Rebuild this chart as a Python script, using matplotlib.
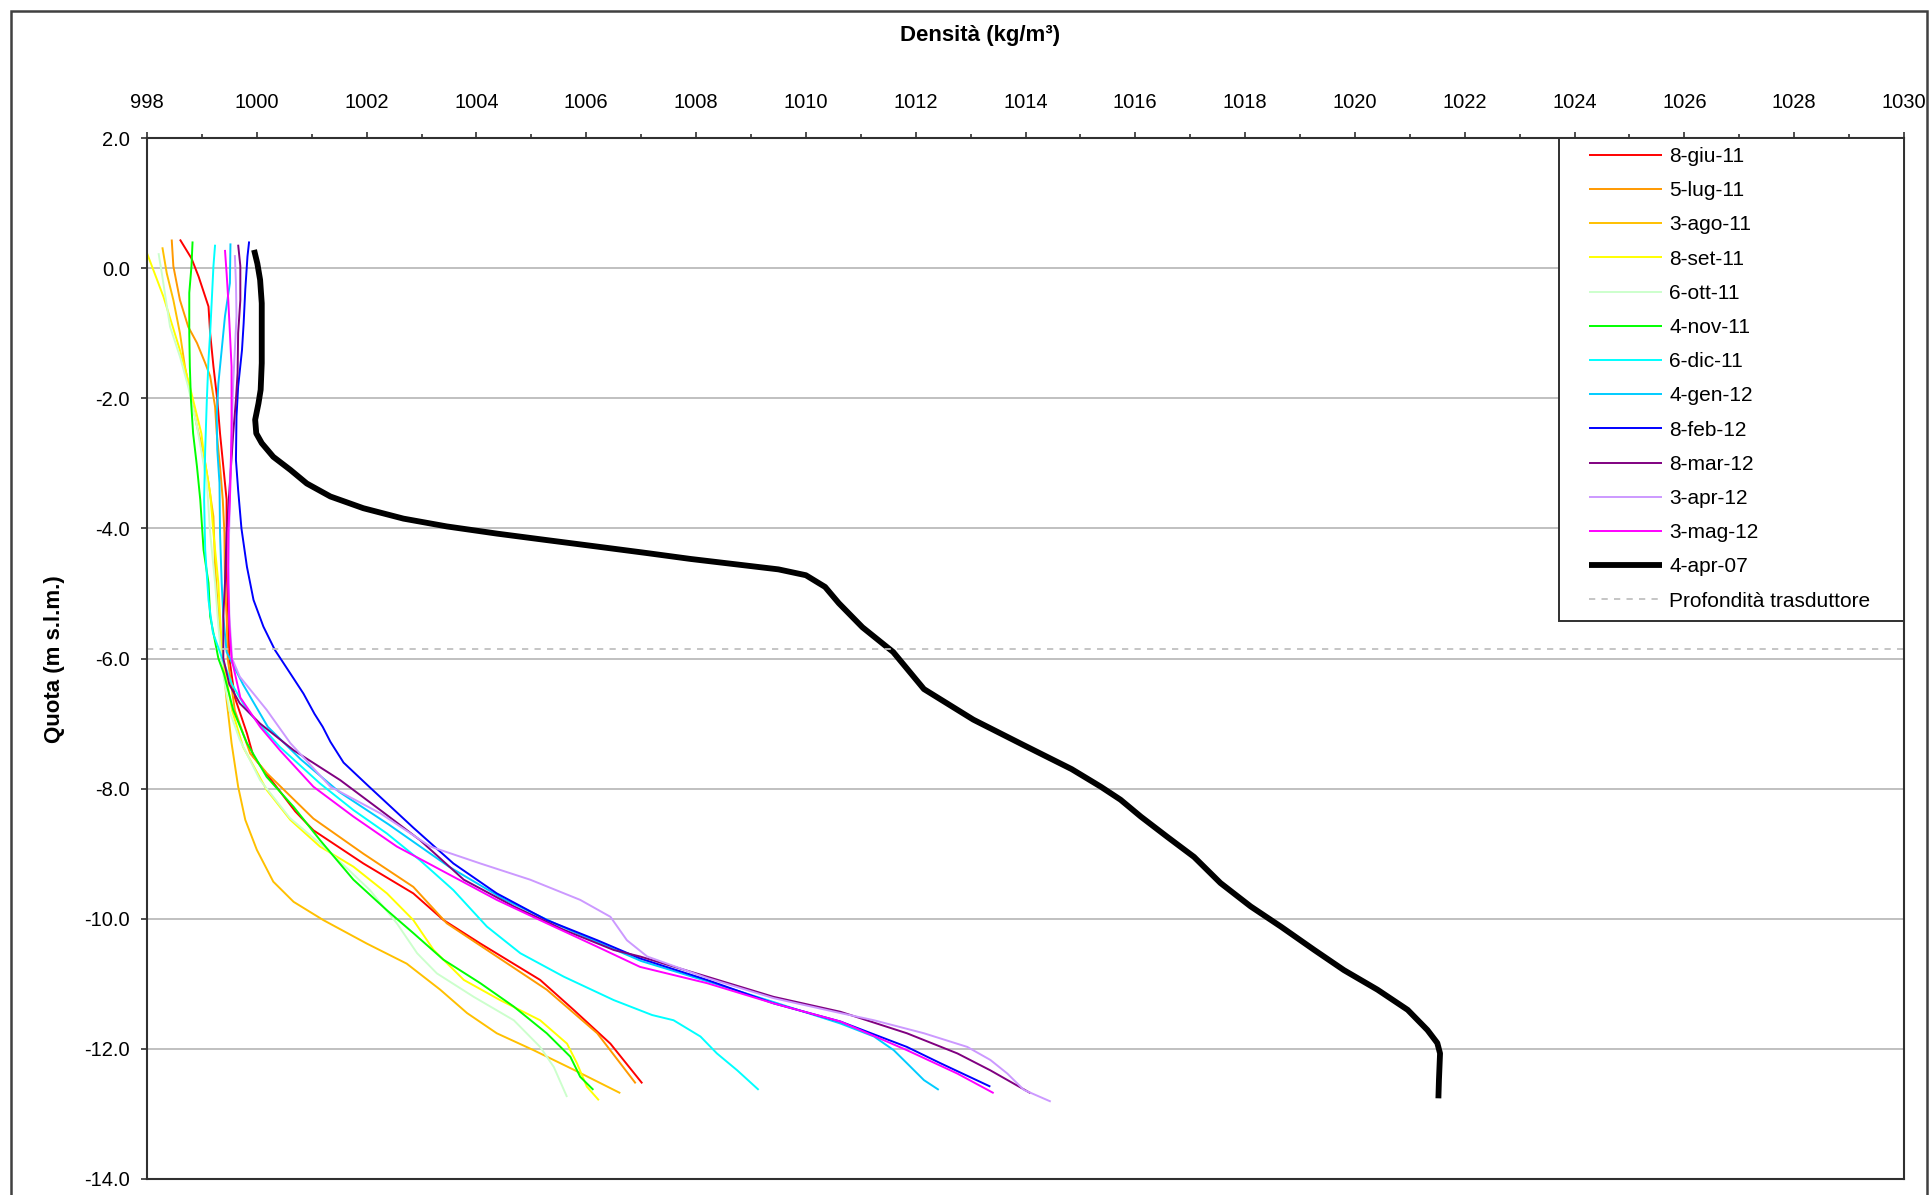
import matplotlib
matplotlib.use('Agg')
import matplotlib.pyplot as plt
from matplotlib.patches import Rectangle
from matplotlib.ticker import MultipleLocator, FormatStrFormatter

plt.rcParams['font.family'] = ['Liberation Sans', 'DejaVu Sans']
plt.rcParams['axes.unicode_minus'] = False
plt.rcParams['lines.scale_dashes'] = False

# ---- density profiles: density (kg/m3) vs elevation (m s.l.m.) ----
giu11_d = [998.60, 998.81, 998.94, 999.12, 999.15, 999.21, 999.28, 999.33, 999.39, 999.45, 999.45, 999.48,
           999.50, 999.60, 999.82, 999.94, 1000.70, 1001.03, 1001.94, 1002.85, 1003.40, 1004.07, 1005.16,
           1005.77, 1006.44, 1007.02]
giu11_q = [0.44, 0.15, -0.13, -0.59, -1.0, -1.51, -2.02, -2.54, -3.05, -3.56, -4.58, -5.40,
           -6.0, -6.6, -7.15, -7.51, -8.35, -8.64, -9.15, -9.61, -10.02, -10.38, -10.94,
           -11.40, -11.92, -12.53]

lug11_d = [998.45, 998.48, 998.60, 998.75, 998.91, 999.06, 999.15, 999.24, 999.27, 999.33, 999.38, 999.41,
           999.42, 999.45, 999.47, 999.60, 999.88, 1000.18, 1001.03, 1001.94, 1002.85, 1003.46, 1004.37,
           1005.28, 1006.20, 1006.90]
lug11_q = [0.44, 0.03, -0.49, -0.9, -1.15, -1.46, -1.66, -2.13, -2.54, -3.05, -3.56, -4.07,
           -4.84, -5.35, -6.0, -6.8, -7.46, -7.76, -8.46, -9.0, -9.51, -10.07, -10.58,
           -11.09, -11.76, -12.53]

ago11_d = [998.28, 998.36, 998.48, 998.60, 998.69, 998.91, 999.03, 999.12, 999.21, 999.24, 999.30, 999.38,
           999.45, 999.54, 999.66, 999.79, 1000.0, 1000.30, 1000.67, 1001.21, 1002.0, 1002.73, 1003.34,
           1003.83, 1004.37, 1005.04, 1005.77, 1006.62]
ago11_q = [0.32, -0.08, -0.49, -1.0, -1.51, -2.43, -2.84, -3.30, -3.82, -4.58, -5.35, -6.0,
           -6.64, -7.30, -7.97, -8.48, -8.94, -9.43, -9.74, -10.02, -10.38, -10.69, -11.09,
           -11.45, -11.76, -12.02, -12.32, -12.68]

set11_d = [998.0, 998.30, 998.60, 998.78, 998.99, 999.05, 999.15, 999.21, 999.30, 999.33, 999.38, 999.55,
           999.75, 1000.18, 1000.61, 1001.15, 1001.76, 1002.37, 1002.85, 1003.22, 1003.77, 1004.43,
           1005.16, 1005.65, 1005.83, 1006.01, 1006.23]
set11_q = [0.23, -0.44, -1.26, -1.82, -2.54, -2.95, -3.46, -4.07, -4.84, -5.35, -6.0, -6.8,
           -7.36, -8.02, -8.48, -8.89, -9.2, -9.61, -10.02, -10.48, -10.94, -11.25,
           -11.56, -11.92, -12.22, -12.58, -12.79]

ott11_d = [998.21, 998.27, 998.42, 998.60, 998.75, 998.91, 999.09, 999.15, 999.24, 999.30, 999.38, 999.50,
           999.69, 1000.06, 1000.60, 1001.30, 1002.06, 1002.55, 1002.92, 1003.28, 1003.95, 1004.68,
           1005.16, 1005.41, 1005.65]
ott11_q = [0.23, -0.08, -0.9, -1.36, -1.82, -2.43, -3.30, -4.07, -4.84, -5.5, -6.2, -6.8,
           -7.25, -7.87, -8.45, -8.95, -9.56, -10.07, -10.53, -10.84, -11.2, -11.56,
           -11.97, -12.28, -12.74]

nov11_d = [998.83, 998.81, 998.77, 998.77, 998.78, 998.80, 998.84, 998.91, 998.97, 999.03, 999.12, 999.15,
           999.30, 999.40, 999.57, 999.82, 1000.18, 1000.67, 1001.15, 1001.76, 1002.37, 1002.85, 1003.40,
           1004.07, 1004.68, 1005.28, 1005.71, 1005.89, 1006.13]
nov11_q = [0.41, 0.03, -0.38, -1.0, -1.51, -2.02, -2.54, -3.05, -3.56, -4.33, -4.84, -5.35,
           -6.0, -6.23, -6.79, -7.30, -7.82, -8.28, -8.79, -9.4, -9.87, -10.22, -10.63,
           -10.99, -11.35, -11.76, -12.12, -12.43, -12.63]

dic11_d = [999.24, 999.21, 999.18, 999.15, 999.12, 999.09, 999.06, 999.04, 999.06, 999.12, 999.20, 999.37,
           999.55, 999.82, 1000.42, 1001.15, 1001.76, 1002.37, 1002.97, 1003.58, 1004.19, 1004.80,
           1005.59, 1006.50, 1007.20, 1007.59, 1008.08, 1008.38, 1008.75, 1009.14]
dic11_q = [0.36, 0.03, -0.49, -1.0, -1.41, -2.02, -2.79, -3.56, -4.33, -5.10, -5.6, -6.0,
           -6.4, -6.79, -7.36, -7.92, -8.33, -8.69, -9.10, -9.56, -10.12, -10.53,
           -10.89, -11.25, -11.48, -11.56, -11.81, -12.07, -12.33, -12.63]

gen12_d = [999.52, 999.51, 999.42, 999.36, 999.30, 999.27, 999.28, 999.32, 999.33, 999.36, 999.39, 999.45,
           999.75, 1000.20, 1000.80, 1001.50, 1002.40, 1003.50, 1004.50, 1005.50, 1007.0, 1008.20,
           1009.41, 1010.63, 1011.24, 1011.60, 1011.84, 1012.15, 1012.42]
gen12_q = [0.38, -0.23, -0.74, -1.26, -1.77, -2.28, -2.79, -3.30, -4.07, -4.84, -5.35, -5.9,
           -6.4, -7.05, -7.55, -8.05, -8.55, -9.2, -9.7, -10.1, -10.65, -10.96,
           -11.28, -11.61, -11.81, -12.02, -12.22, -12.48, -12.63]

feb12_d = [999.86, 999.83, 999.79, 999.76, 999.73, 999.66, 999.63, 999.62, 999.66, 999.72, 999.82, 999.94,
           1000.12, 1000.33, 1000.61, 1000.85, 1001.05, 1001.20, 1001.34, 1001.58, 1002.02, 1002.85, 1003.58,
           1004.37, 1005.28, 1006.20, 1006.98, 1008.20, 1009.41, 1010.63, 1011.84, 1012.45, 1013.36]
feb12_q = [0.41, 0.18, -0.33, -0.85, -1.26, -1.82, -2.28, -2.95, -3.41, -4.0, -4.59, -5.10,
           -5.51, -5.87, -6.23, -6.54, -6.85, -7.05, -7.28, -7.60, -7.95, -8.60, -9.15,
           -9.61, -10.02, -10.33, -10.61, -10.94, -11.30, -11.58, -11.97, -12.22, -12.58]

mar12_d = [999.66, 999.70, 999.70, 999.66, 999.65, 999.62, 999.57, 999.51, 999.45, 999.42, 999.39, 999.39,
           999.50, 999.69, 1000.06, 1000.67, 1001.52, 1002.25, 1002.97, 1003.77, 1004.68, 1005.59,
           1006.50, 1006.98, 1008.20, 1009.41, 1010.63, 1011.84, 1012.76, 1013.36, 1014.09]
mar12_q = [0.36, 0.03, -0.49, -1.0, -1.61, -2.02, -2.54, -3.30, -4.07, -4.84, -5.35, -6.0,
           -6.4, -6.69, -7.0, -7.41, -7.87, -8.33, -8.79, -9.40, -9.81, -10.17,
           -10.48, -10.58, -10.89, -11.20, -11.43, -11.76, -12.07, -12.33, -12.68]

apr12_d = [999.60, 999.62, 999.63, 999.60, 999.57, 999.54, 999.51, 999.48, 999.50, 999.55, 999.69, 1000.18,
           1000.61, 1001.34, 1002.25, 1003.16, 1004.07, 1004.98, 1005.89, 1006.44, 1006.74, 1007.11,
           1008.20, 1009.41, 1010.63, 1011.24, 1012.15, 1012.94, 1013.36, 1013.67, 1013.97, 1014.46]
apr12_q = [0.2, -0.23, -0.74, -1.26, -1.77, -2.54, -3.56, -4.58, -5.35, -6.0, -6.28, -6.79,
           -7.30, -7.97, -8.38, -8.89, -9.15, -9.40, -9.71, -9.97, -10.33, -10.58,
           -10.91, -11.22, -11.45, -11.56, -11.76, -11.97, -12.17, -12.38, -12.63, -12.81]

mag12_d = [999.42, 999.45, 999.48, 999.51, 999.54, 999.54, 999.51, 999.48, 999.48, 999.50, 999.54, 999.70,
           1000.06, 1000.42, 1001.03, 1001.76, 1002.55, 1003.46, 1004.37, 1005.28, 1006.20, 1006.98,
           1008.20, 1009.41, 1010.63, 1011.84, 1012.76, 1013.42]
mag12_q = [0.28, -0.08, -0.49, -1.0, -1.51, -2.54, -3.56, -4.07, -4.84, -5.5, -6.0, -6.6,
           -7.05, -7.41, -7.97, -8.43, -8.89, -9.30, -9.71, -10.07, -10.43, -10.74,
           -10.99, -11.30, -11.58, -12.02, -12.38, -12.68]

apr07_d = [999.95, 1000.01, 1000.06, 1000.09, 1000.09, 1000.09, 1000.07, 1000.03, 999.97, 999.99, 1000.09,
           1000.30, 1000.61, 1000.91, 1001.34, 1001.94, 1002.67, 1003.46, 1004.37, 1005.28, 1006.20,
           1007.11, 1007.90, 1008.70, 1009.50, 1010.0, 1010.35, 1010.60, 1011.03, 1011.59, 1012.15,
           1013.05, 1013.94, 1014.84, 1015.37, 1015.73, 1016.10, 1016.58, 1017.07, 1017.55, 1018.10,
           1018.65, 1019.26, 1019.80, 1020.41, 1020.96, 1021.32, 1021.50, 1021.55, 1021.53, 1021.52]
apr07_q = [0.28, 0.07, -0.18, -0.54, -0.95, -1.46, -1.87, -2.08, -2.33, -2.54, -2.69,
           -2.90, -3.10, -3.31, -3.51, -3.69, -3.85, -3.97, -4.08, -4.18, -4.28,
           -4.38, -4.47, -4.55, -4.63, -4.72, -4.90, -5.15, -5.52, -5.90, -6.47,
           -6.94, -7.32, -7.70, -7.97, -8.17, -8.43, -8.74, -9.05, -9.45, -9.81,
           -10.12, -10.48, -10.79, -11.09, -11.40, -11.71, -11.91, -12.07, -12.48, -12.76]

trasduttore_quota = -5.85

labels = ['8-giu-11', '5-lug-11', '3-ago-11', '8-set-11', '6-ott-11', '4-nov-11', '6-dic-11',
          '4-gen-12', '8-feb-12', '8-mar-12', '3-apr-12', '3-mag-12', '4-apr-07']
colors = ['#FF0000', '#FF9900', '#FFC000', '#FFFF00', '#CCFFCC', '#00FF00', '#00FFFF',
          '#00CCFF', '#0000FF', '#800080', '#CC99FF', '#FF00FF', '#000000']
dens = [giu11_d, lug11_d, ago11_d, set11_d, ott11_d, nov11_d, dic11_d,
        gen12_d, feb12_d, mar12_d, apr12_d, mag12_d, apr07_d]
quota = [giu11_q, lug11_q, ago11_q, set11_q, ott11_q, nov11_q, dic11_q,
         gen12_q, feb12_q, mar12_q, apr12_q, mag12_q, apr07_q]

W, H = 1930, 1195
fig = plt.figure(figsize=(W / 100, H / 100), dpi=100)
ax = fig.add_axes([147 / W, 1 - 1179 / H, (1904 - 147) / W, (1179 - 138) / H])

for lab, col, d, q in zip(labels, colors, dens, quota):
    lw = 4.2 if lab == '4-apr-07' else 1.4
    ax.plot(d, q, color=col, lw=lw, label=lab, solid_joinstyle='round', solid_capstyle='butt')

ax.axhline(trasduttore_quota, color='#c0c0c0', lw=1.3, dashes=(4.5, 4.5),
           label='Profondità trasduttore')

ax.set_xlim(998, 1030)
ax.set_ylim(-14, 2)
ax.xaxis.set_major_locator(MultipleLocator(2))
ax.xaxis.set_minor_locator(MultipleLocator(1))
ax.yaxis.set_major_locator(MultipleLocator(2))
ax.yaxis.set_major_formatter(FormatStrFormatter('%.1f'))
ax.xaxis.tick_top()
ax.xaxis.set_label_position('top')
ax.tick_params(axis='x', which='major', direction='out', length=4.5, width=1.2,
               pad=14, labelsize=14.5, color='#303030')
ax.tick_params(axis='x', which='minor', direction='out', length=3, width=1.2, color='#303030')
ax.tick_params(axis='y', which='major', direction='out', length=4.5, width=1.2,
               pad=8, labelsize=14.5, color='#303030')
ax.grid(axis='y', which='major', color='#c0c0c0', lw=1.4)
ax.set_axisbelow(True)
for sp in ax.spines.values():
    sp.set_color('#303030')
    sp.set_linewidth(1.5)

# legend box
frame = Rectangle((1559 / W, 1 - 621 / H), (1904 - 1559) / W, (621 - 138) / H,
                  transform=fig.transFigure, facecolor='white', edgecolor='#303030',
                  lw=1.4, zorder=4)
fig.add_artist(frame)
handles, labs = ax.get_legend_handles_labels()
fig.legend(handles, labs, loc='upper left', bbox_to_anchor=(1589 / W, 1 - 147 / H),
           bbox_transform=fig.transFigure, frameon=False, borderpad=0, borderaxespad=0,
           fontsize=15, handlelength=3.5, handletextpad=0.34, labelspacing=0.73)

# chart border
border = Rectangle((11 / W, -0.02), (1927 - 11) / W, 1 - 11 / H + 0.02,
                   transform=fig.transFigure, fill=False, edgecolor='#404040', lw=1.8,
                   clip_on=False, zorder=6)
fig.add_artist(border)

fig.text(0.508, 1 - 35 / H, 'Densità (kg/m³)', ha='center', va='center',
         fontsize=16, fontweight='bold')
fig.text(0.028, 0.4485, 'Quota (m s.l.m.)', rotation=90, ha='center', va='center',
         fontsize=16, fontweight='bold')

fig.savefig('out.png', dpi=100)
